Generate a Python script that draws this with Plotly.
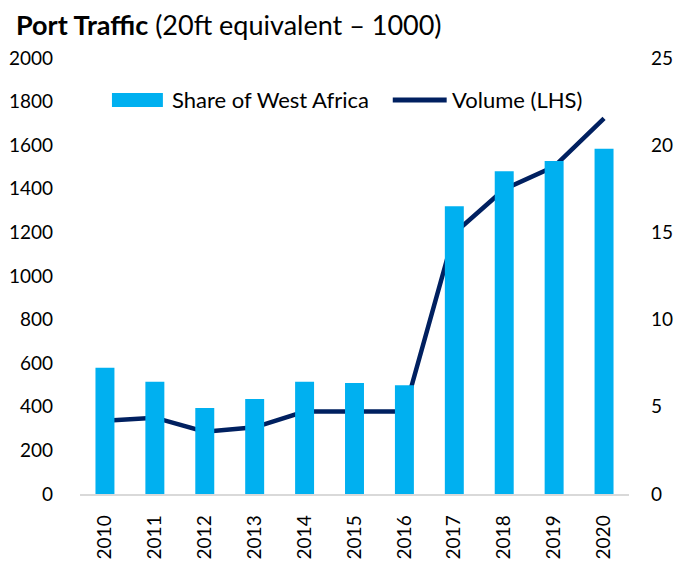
import plotly.graph_objects as go

years = ["2010", "2011", "2012", "2013", "2014", "2015", "2016", "2017", "2018", "2019", "2020"]
share_west_africa = [7.24, 6.44, 4.93, 5.45, 6.43, 6.36, 6.24, 16.5, 18.5, 19.1, 19.8]
volume_lhs = [336, 350, 286, 306, 378, 378, 378, 1196, 1398, 1502, 1723]

FONT = "Lato"
BAR_COLOR = "#00B0F0"
LINE_COLOR = "#002060"

fig = go.Figure()
fig.add_trace(go.Bar(
    x=years, y=share_west_africa, name="Share of West Africa",
    marker=dict(color=BAR_COLOR, line=dict(width=0)), yaxis="y2",
))
fig.add_trace(go.Scatter(
    x=years, y=volume_lhs, name="Volume (LHS)", mode="lines",
    line=dict(color=LINE_COLOR, width=4.5), yaxis="y",
))

# custom legend (wide swatch like the reference)
legend_shapes = [
    dict(type="rect", xref="paper", yref="paper", x0=0.0582, x1=0.151, y0=0.8876, y1=0.9197,
         fillcolor=BAR_COLOR, line=dict(width=0)),
    dict(type="line", xref="paper", yref="paper", x0=0.5697, x1=0.6679, y0=0.9037, y1=0.9037,
         line=dict(color=LINE_COLOR, width=5)),
]
legend_texts = [
    dict(text="Share of West Africa", xref="paper", yref="paper", x=0.1638, y=0.9037,
         xanchor="left", yanchor="middle", showarrow=False, font=dict(family=FONT, size=22)),
    dict(text="Volume (LHS)", xref="paper", yref="paper", x=0.6734, y=0.9037,
         xanchor="left", yanchor="middle", showarrow=False, font=dict(family=FONT, size=22)),
]

fig.update_layout(
    width=678, height=568,
    margin=dict(l=79.5, r=48.5, t=58, b=74),
    paper_bgcolor="white", plot_bgcolor="white",
    font=dict(family=FONT, size=19, color="#000000"),
    bargap=0.62,
    showlegend=False,
    xaxis=dict(type="category", tickangle=-90, showgrid=False, showline=True,
               linecolor="#D9D9D9", linewidth=1.5, ticks="", ticklabelstandoff=12,
               tickfont=dict(size=19), automargin=False),
    yaxis=dict(range=[0, 2000], dtick=200, showgrid=False, zeroline=False,
               showline=False, ticks="", ticklabelstandoff=26, tickfont=dict(size=19),
               automargin=False),
    yaxis2=dict(range=[0, 25], dtick=5, overlaying="y", side="right", showgrid=False,
                zeroline=False, showline=False, ticks="", ticklabelstandoff=21,
                tickfont=dict(size=19), automargin=False),
    shapes=legend_shapes,
    annotations=[dict(
        text="<b>Port Traffic</b> (20ft equivalent – 1000)",
        xref="paper", yref="paper", x=-0.121, y=1.076, xanchor="left", yanchor="middle",
        showarrow=False, font=dict(family=FONT, size=27, color="#000000"),
    )] + legend_texts,
)

fig.write_html(
    "out.html",
    config={"displayModeBar": False},
    post_script=("document.body.style.margin='0';"
                 "document.body.style.overflow='hidden';"
                 "document.documentElement.style.overflow='hidden';"),
)
